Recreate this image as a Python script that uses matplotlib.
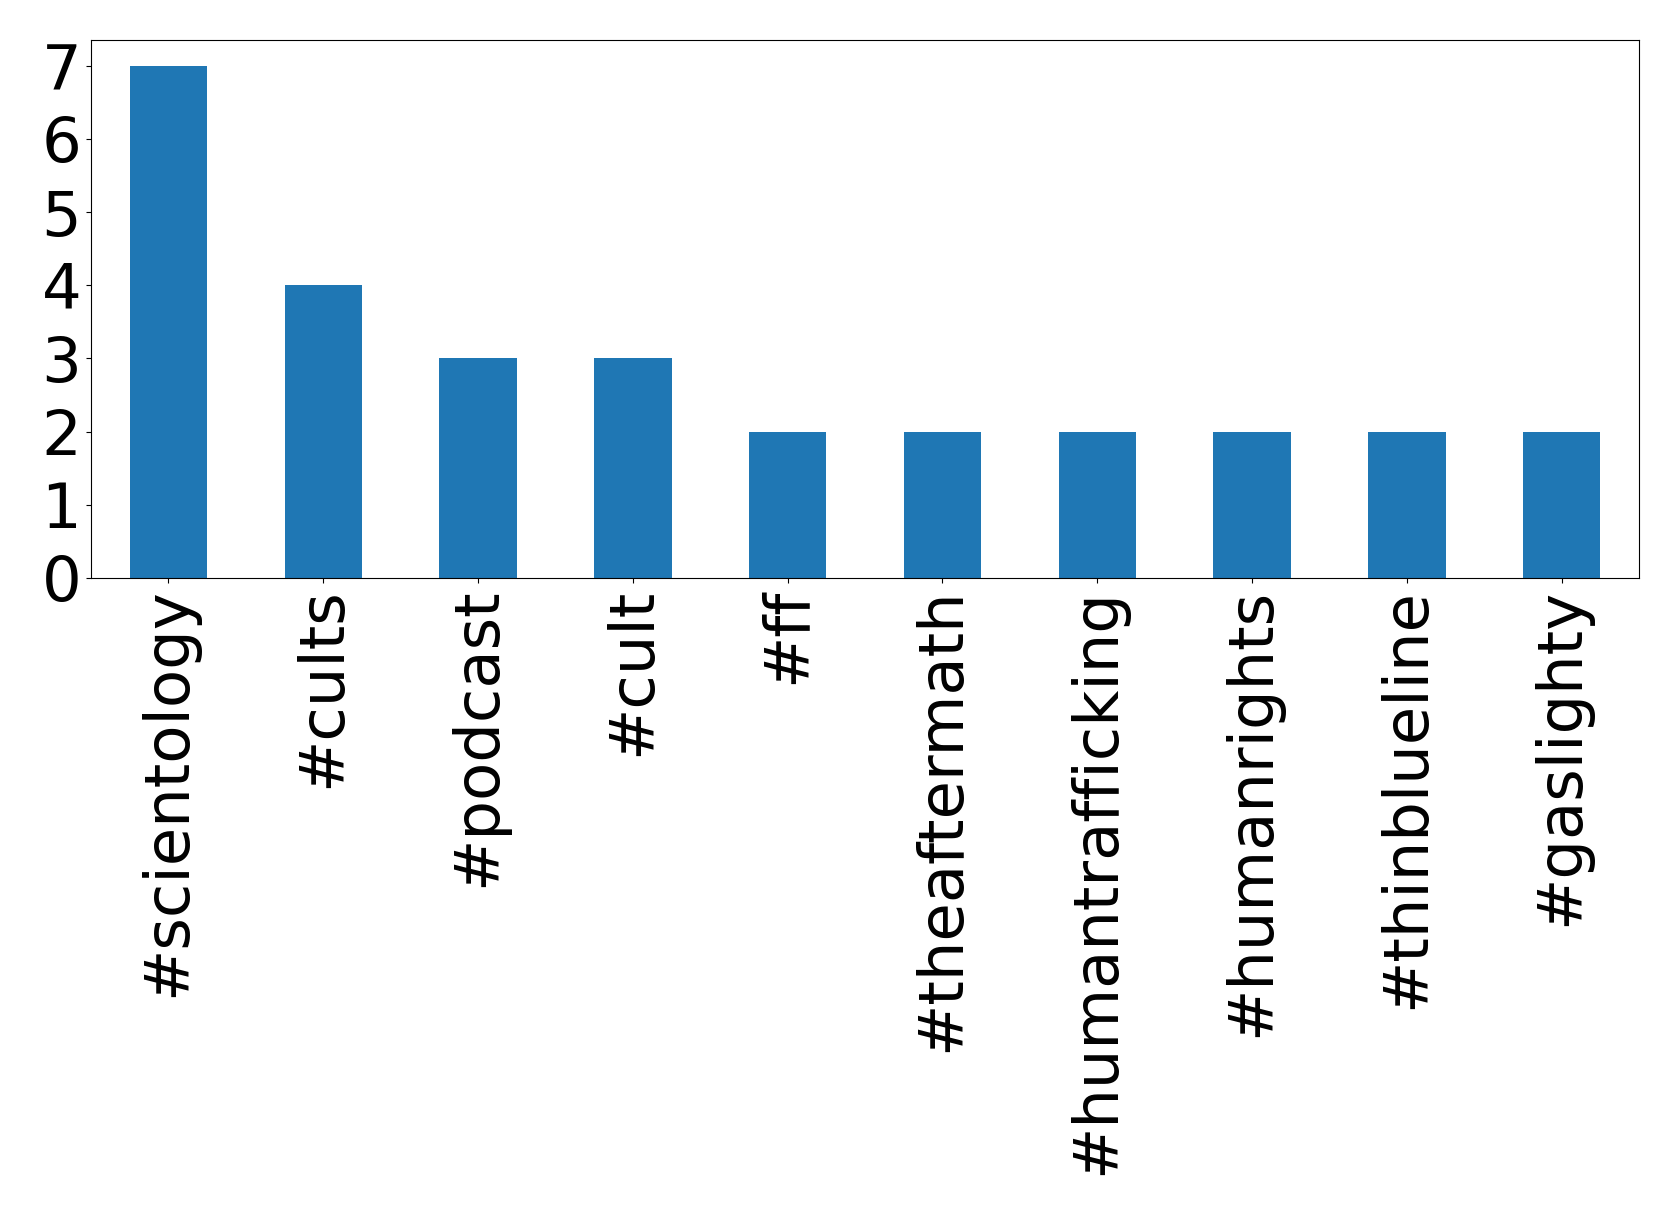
import matplotlib
matplotlib.use("Agg")
import matplotlib.pyplot as plt

# hashtag counts
hashtags = ["#scientology", "#cults", "#podcast", "#cult", "#ff",
            "#theaftermath", "#humantrafficking", "#humanrights",
            "#thinblueline", "#gaslighty"]
counts = [7, 4, 3, 3, 2, 2, 2, 2, 2, 2]

fig = plt.figure(figsize=(16.79, 12.15), dpi=100)
ax = fig.add_axes([91 / 1679, 1 - 578 / 1215, (1639 - 91) / 1679, (578 - 40) / 1215])

x = range(len(hashtags))
ax.bar(x, counts, width=0.5, color="#1f77b4")
ax.set_xlim(-0.5, len(hashtags) - 0.5)
ax.set_ylim(0, 7.35)
ax.set_xticks(list(x))
ax.set_xticklabels(hashtags, rotation=90, fontsize=45)
ax.set_yticks(range(8))
ax.tick_params(axis="y", labelsize=45)

fig.savefig("out.png", dpi=100)
